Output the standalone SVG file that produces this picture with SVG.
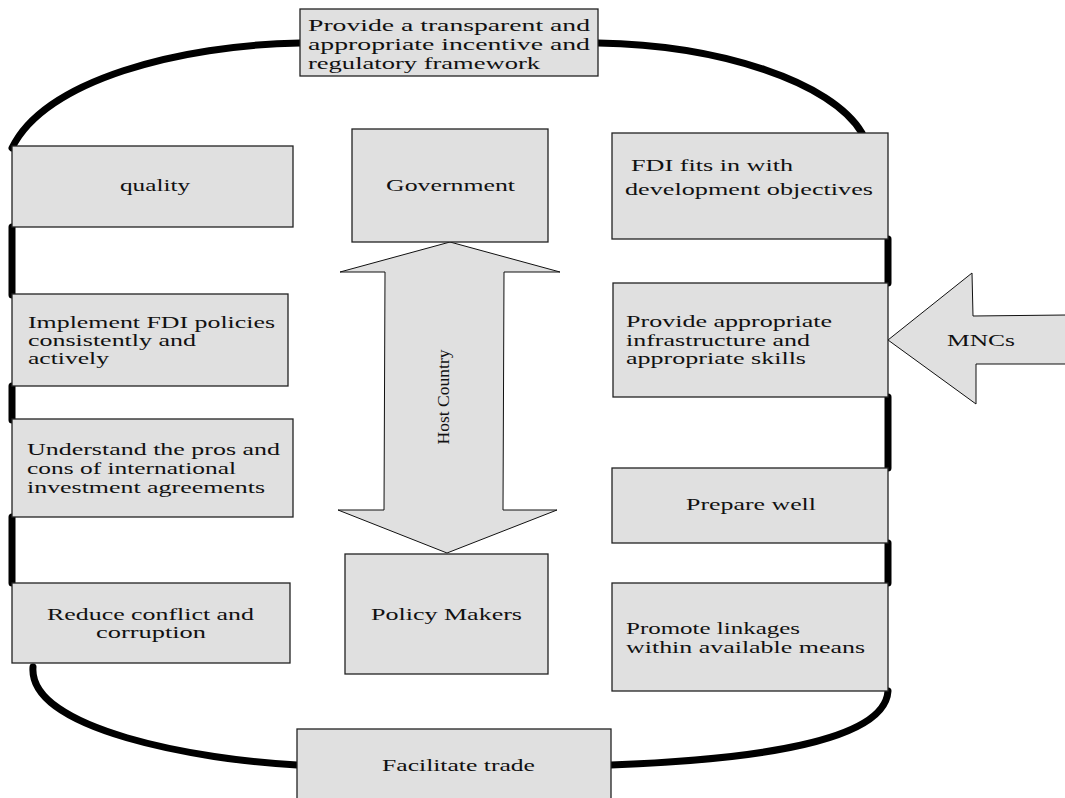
<svg xmlns="http://www.w3.org/2000/svg" width="1065" height="798" viewBox="0 0 1065 798">
<style>
.box{fill:#e0e0e0;stroke:#222;stroke-width:1.3}
.arr{fill:#e0e0e0;stroke:#111;stroke-width:1}
.con{fill:none;stroke:#000;stroke-width:7;stroke-linecap:round}
text{font-family:"Liberation Serif","Times New Roman",serif;font-size:17px;fill:#111}
.c{text-anchor:middle}
</style>
<rect width="1065" height="798" fill="#fff"/>
<g id="connectors">
<path class="con" d="M300,43 C180,45 45,80 12,148"/>
<path class="con" d="M598,43 C720,45 832,82 862,133"/>
<path class="con" d="M888,691 C885,742 750,760 611,765"/>
<path class="con" d="M33,667 C28,730 200,760 297,765"/>
<path class="con" d="M12,227 V295"/>
<path class="con" d="M12,386 V420"/>
<path class="con" d="M12,517 V583"/>
<path class="con" d="M888,239 V283"/>
<path class="con" d="M888,397 V468"/>
<path class="con" d="M888,543 V583"/>
</g>
<g id="host-country-arrow">
<polygon class="arr" points="450,242 560,272 504,272 503,510 557,510 447,553 338,510 384,510 385,272 340,272"/>
<text transform="translate(449,397) rotate(-90)" class="c" font-size="16.5" textLength="95" lengthAdjust="spacingAndGlyphs">Host  Country</text>
</g>
<g id="mncs-arrow">
<polygon class="arr" points="888,340 972,273 973,316 1066,315 1066,364 976,364 976,404"/>
<text x="947" y="346" textLength="68" lengthAdjust="spacingAndGlyphs">MNCs</text>
</g>
<g id="top">
<rect class="box" x="300" y="9" width="298" height="67"/>
<text x="308" y="31" textLength="282" lengthAdjust="spacingAndGlyphs">Provide a transparent and</text>
<text x="308" y="50" textLength="282" lengthAdjust="spacingAndGlyphs">appropriate incentive and</text>
<text x="308" y="69" textLength="232" lengthAdjust="spacingAndGlyphs">regulatory framework</text>
</g>
<g id="quality">
<rect class="box" x="12" y="146" width="281" height="81"/>
<text x="120" y="191" textLength="70" lengthAdjust="spacingAndGlyphs">quality</text>
</g>
<g id="government">
<rect class="box" x="352" y="129" width="196" height="113"/>
<text x="386" y="191" textLength="129" lengthAdjust="spacingAndGlyphs">Government</text>
</g>
<g id="fdi-fits">
<rect class="box" x="612" y="133" width="276" height="106"/>
<text x="631" y="171" textLength="162" lengthAdjust="spacingAndGlyphs">FDI fits in with</text>
<text x="625" y="195" textLength="248" lengthAdjust="spacingAndGlyphs">development objectives</text>
</g>
<g id="infrastructure">
<rect class="box" x="613" y="283" width="275" height="114"/>
<text x="626" y="327" textLength="206" lengthAdjust="spacingAndGlyphs">Provide appropriate</text>
<text x="626" y="346" textLength="184" lengthAdjust="spacingAndGlyphs">infrastructure and</text>
<text x="626" y="364" textLength="180" lengthAdjust="spacingAndGlyphs">appropriate skills</text>
</g>
<g id="implement">
<rect class="box" x="12" y="294" width="276" height="92"/>
<text x="28" y="328" textLength="247" lengthAdjust="spacingAndGlyphs">Implement FDI policies</text>
<text x="28" y="346" textLength="168" lengthAdjust="spacingAndGlyphs">consistently and</text>
<text x="28" y="364" textLength="81" lengthAdjust="spacingAndGlyphs">actively</text>
</g>
<g id="understand">
<rect class="box" x="12" y="419" width="281" height="98"/>
<text x="27" y="455" textLength="253" lengthAdjust="spacingAndGlyphs">Understand the pros and</text>
<text x="27" y="474" textLength="209" lengthAdjust="spacingAndGlyphs">cons of international</text>
<text x="27" y="493" textLength="238" lengthAdjust="spacingAndGlyphs">investment agreements</text>
</g>
<g id="prepare">
<rect class="box" x="612" y="468" width="276" height="75"/>
<text x="686" y="510" textLength="130" lengthAdjust="spacingAndGlyphs">Prepare well</text>
</g>
<g id="promote">
<rect class="box" x="612" y="583" width="276" height="108"/>
<text x="626" y="634" textLength="174" lengthAdjust="spacingAndGlyphs">Promote linkages</text>
<text x="626" y="653" textLength="239" lengthAdjust="spacingAndGlyphs">within available means</text>
</g>
<g id="reduce">
<rect class="box" x="12" y="583" width="278" height="80"/>
<text x="47" y="620" textLength="207" lengthAdjust="spacingAndGlyphs">Reduce conflict and</text>
<text x="96" y="638" textLength="110" lengthAdjust="spacingAndGlyphs">corruption</text>
</g>
<g id="policy-makers">
<rect class="box" x="345" y="554" width="203" height="120"/>
<text x="371" y="620" textLength="151" lengthAdjust="spacingAndGlyphs">Policy Makers</text>
</g>
<g id="facilitate">
<rect class="box" x="297" y="729" width="314" height="72"/>
<text x="382" y="771" textLength="153" lengthAdjust="spacingAndGlyphs">Facilitate trade</text>
</g>
</svg>
